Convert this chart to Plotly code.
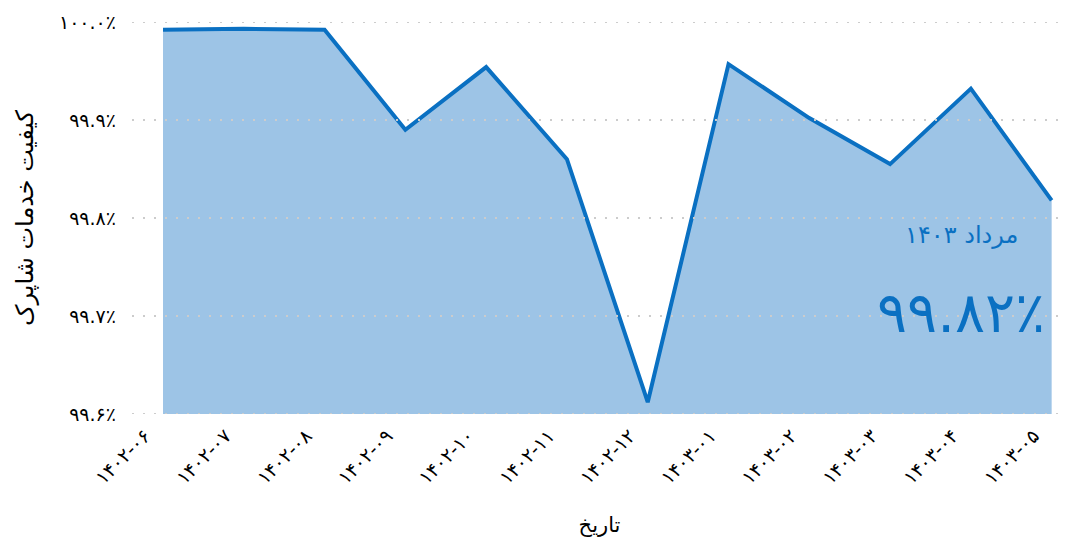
import plotly.graph_objects as go

categories = ["۱۴۰۲-۰۶", "۱۴۰۲-۰۷", "۱۴۰۲-۰۸", "۱۴۰۲-۰۹", "۱۴۰۲-۱۰", "۱۴۰۲-۱۱",
              "۱۴۰۲-۱۲", "۱۴۰۳-۰۱", "۱۴۰۳-۰۲", "۱۴۰۳-۰۳", "۱۴۰۳-۰۴", "۱۴۰۳-۰۵"]
quality = [99.992, 99.993, 99.992, 99.890, 99.954, 99.860,
           99.612, 99.957, 99.902, 99.855, 99.932, 99.818]
y_ticks = [99.6, 99.7, 99.8, 99.9, 100.0]
y_tick_labels = ["۹۹.۶٪", "۹۹.۷٪", "۹۹.۸٪", "۹۹.۹٪", "۱۰۰.۰٪"]
latest_label = "مرداد ۱۴۰۳"
latest_value = "۹۹.۸۲٪"

FONT = "DejaVu Sans"
LINE = "#0a70c2"
FILL = "#9dc4e6"

x_idx = list(range(len(categories)))

fig = go.Figure()
fig.add_trace(go.Scatter(
    x=x_idx, y=quality, mode="lines",
    line=dict(color=LINE, width=4),
    fill="tozeroy", fillcolor=FILL,
    hoverinfo="skip", showlegend=False,
))

shapes = [
    dict(type="line", xref="paper", yref="y", x0=0, x1=1, y0=v, y1=v,
         line=dict(color="#cccccc", width=2, dash="2px,9px"), layer="above")
    for v in y_ticks
]

fig.update_layout(
    width=1072, height=545,
    margin=dict(l=132, r=5, t=22, b=131),
    plot_bgcolor="white", paper_bgcolor="white",
    font=dict(family=FONT, color="#000000"),
    shapes=shapes,
    xaxis=dict(
        range=[-0.384, 11.19], automargin=False,
        tickmode="array", tickvals=x_idx, ticktext=categories,
        tickangle=-45, tickfont=dict(size=19, family=FONT),
        ticklabelshift=-18, ticklabelstandoff=6,
        showgrid=False, zeroline=False, showline=False, ticks="",
        title=dict(text="تاریخ", font=dict(size=21, family=FONT), standoff=30),
    ),
    yaxis=dict(
        range=[99.6, 100.0], automargin=False,
        tickmode="array", tickvals=y_ticks, ticktext=y_tick_labels,
        tickfont=dict(size=19, family=FONT), ticklabelstandoff=15,
        showgrid=False, zeroline=False, showline=False, ticks="",
        title=dict(text="کیفیت خدمات شاپرک", font=dict(size=24, family=FONT), standoff=18),
    ),
    annotations=[
        dict(xref="paper", yref="paper", x=0.887, y=0.457, text=latest_label,
             showarrow=False, font=dict(size=24, color=LINE, family=FONT),
             xanchor="center", yanchor="middle"),
        dict(xref="paper", yref="paper", x=0.887, y=0.258, text=latest_value,
             showarrow=False, font=dict(size=56, color=LINE, family=FONT),
             xanchor="center", yanchor="middle"),
    ],
)

fig.write_html(
    "out.html",
    config={"displayModeBar": False},
    post_script="document.body.style.margin='0';document.body.style.overflow='hidden';",
)
